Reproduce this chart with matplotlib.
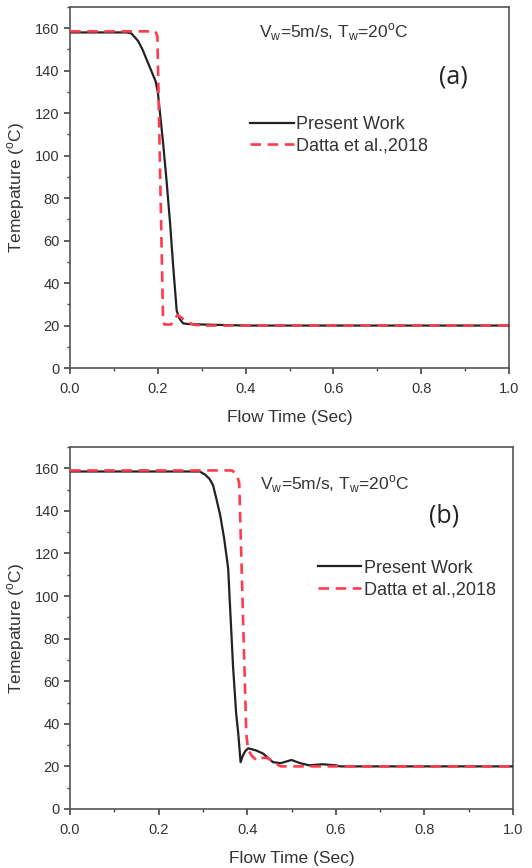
import numpy as np
import matplotlib
matplotlib.use('Agg')
import matplotlib.pyplot as plt
from matplotlib.ticker import MultipleLocator

plt.rcParams['font.family'] = ['Liberation Sans', 'DejaVu Sans']
plt.rcParams['mathtext.fontset'] = 'custom'
plt.rcParams['mathtext.rm'] = 'Liberation Sans'

# panel (a)
t_pw_a = [0.0, 0.13, 0.14, 0.155, 0.165, 0.175, 0.185, 0.195, 0.2, 0.205, 0.212,
          0.22, 0.228, 0.235, 0.243, 0.25, 0.258, 0.27, 0.3, 0.4, 1.0]
T_pw_a = [158, 158, 157.5, 154, 150, 145, 140, 135, 130, 120, 106,
          88, 68, 48, 27, 23, 21, 20.7, 20.5, 20, 20]
t_ref_a = [0.0, 0.195, 0.199, 0.212, 0.215, 0.23, 0.245, 0.265, 0.28, 0.3, 1.0]
T_ref_a = [158.5, 158.5, 156, 22, 20.5, 20.5, 25, 22, 20.5, 20, 20]

# panel (b)
t_pw_b = [0.0, 0.28, 0.293, 0.305, 0.315, 0.323, 0.33, 0.339, 0.348, 0.357, 0.362,
          0.368, 0.375, 0.38, 0.385, 0.39, 0.395, 0.402, 0.42, 0.436, 0.458, 0.475,
          0.5, 0.52, 0.54, 0.57, 0.6, 0.61, 1.0]
T_pw_b = [158.5, 158.5, 158.5, 157, 155, 152, 146, 138, 127, 113, 92,
          67, 45, 35, 22, 25, 27, 28.5, 27.5, 26, 22, 21.5,
          23, 21.5, 20.5, 21, 20.5, 20, 20]
t_ref_b = [0.0, 0.365, 0.372, 0.378, 0.382, 0.398, 0.402, 0.41, 0.422, 0.435, 0.445,
           0.46, 0.475, 1.0]
T_ref_b = [159, 159, 158, 156, 153, 35, 28, 25, 22.7, 24, 24,
           22, 20, 20]

xticks = [0.0, 0.2, 0.4, 0.6, 0.8, 1.0]
yticks = [0, 20, 40, 60, 80, 100, 120, 140, 160]

fig = plt.figure(figsize=(5.32, 8.68), dpi=100)
ax1 = fig.add_axes([0.1316, 0.576, 0.8252, 0.416])
ax2 = fig.add_axes([0.1316, 0.068, 0.8327, 0.417])

panels = [
    (ax1, t_pw_a, T_pw_a, t_ref_a, T_ref_a, '(a)', (0.43, 158), (0.84, 137), (0.394, 109.5)),
    (ax2, t_pw_b, T_pw_b, t_ref_b, T_ref_b, '(b)', (0.43, 152.5), (0.81, 137.5), (0.543, 108)),
]

for ax, tp, Tp, tr, Tr, lab, cond_pos, lab_pos, leg_pos in panels:
    ax.plot(tp, Tp, color='#222222', lw=1.6, label='Present Work', zorder=3)
    ax.plot(tr, Tr, color='#ff3b4e', lw=1.9, ls=(0, (4, 2.5)),
            label='Datta et al.,2018', zorder=4)
    ax.set_xlim(0, 1.0)
    ax.set_ylim(0, 170)
    ax.set_xticks(xticks)
    ax.set_xticklabels(['%.1f' % v for v in xticks])
    ax.set_yticks(yticks)
    ax.xaxis.set_minor_locator(MultipleLocator(0.1))
    ax.yaxis.set_minor_locator(MultipleLocator(10))
    ax.tick_params(which='major', direction='out', length=4, width=1.2,
                   labelsize=10.5, labelcolor='#333333', color='#444444')
    ax.tick_params(axis='x', which='major', pad=6)
    ax.tick_params(which='minor', direction='out', length=2.5, width=1.0,
                   color='#444444')
    for s in ax.spines.values():
        s.set_color('#555555')
        s.set_linewidth(1.2)
    ax.set_xlabel('Flow Time (Sec)', fontsize=12.5, color='#333333', labelpad=10)
    ax.set_ylabel('Temepature ($^\\mathregular{o}$C)', fontsize=12.5, color='#333333', labelpad=6)
    ax.text(cond_pos[0], cond_pos[1],
            'V$_\\mathregular{w}$=5m/s, T$_\\mathregular{w}$=20$^\\mathregular{o}$C',
            fontsize=12.5, color='#333333', va='center', ha='left')
    ax.text(lab_pos[0], lab_pos[1], lab, fontsize=18, color='#222222',
            family=['Open Sans', 'DejaVu Sans'], va='center', ha='left')
    leg = ax.legend(loc='center left', bbox_to_anchor=(leg_pos[0], leg_pos[1] / 170.0),
                    frameon=False, fontsize=13, handlelength=2.4, handletextpad=0.15,
                    labelspacing=0.25, borderaxespad=0)
    for t in leg.get_texts():
        t.set_color('#333333')

fig.savefig('out.png', dpi=100)
